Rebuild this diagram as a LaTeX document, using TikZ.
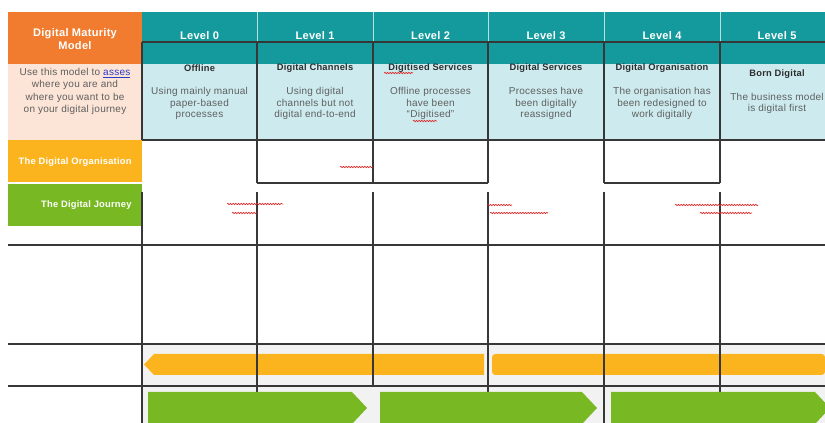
\documentclass[tikz,border=0pt]{standalone}
\usepackage{fontspec}
\setmainfont{Liberation Sans}[LetterSpace=2.5]
\usetikzlibrary{decorations.pathmorphing}

\definecolor{hdrOrange}{RGB}{241,124,47}
\definecolor{hdrPeach}{RGB}{252,228,214}
\definecolor{orgYellow}{RGB}{252,180,30}
\definecolor{jrnGreen}{RGB}{120,185,35}
\definecolor{lvlTeal}{RGB}{20,153,156}
\definecolor{lvlCyan}{RGB}{205,235,238}
\definecolor{panelGray}{RGB}{242,242,242}
\definecolor{lineGray}{RGB}{55,55,55}
\definecolor{bodyGray}{RGB}{95,95,95}
\definecolor{titleGray}{RGB}{45,45,45}
\definecolor{spellRed}{RGB}{225,40,40}
\definecolor{linkBlue}{RGB}{40,60,200}

\tikzset{every picture/.style={line width=0.75pt}}
\tikzset{
  gridline/.style={draw=lineGray, line width=1pt},
  sepline/.style={draw=white, line width=0.5pt, opacity=0.7},
  levellabel/.style={anchor=center, inner sep=0.75pt, text=white, font=\bfseries\fontsize{8.3}{10}\selectfont},
  stagetitle/.style={anchor=center, inner sep=0.75pt, text=titleGray, font=\bfseries\fontsize{7}{8.5}\selectfont},
  stagetext/.style={anchor=center, inner sep=0.75pt, align=center, text=bodyGray, font=\fontsize{7.5}{8.6}\selectfont},
  rowlabel/.style={anchor=east, inner sep=0.75pt, text=white, font=\bfseries\fontsize{7}{8.5}\selectfont},
  spell/.style={draw=spellRed, line width=0.5pt, decorate, decoration={snake, amplitude=0.55pt, segment length=2pt}},
}

\begin{document}
\begin{tikzpicture}[x=0.75pt,y=0.75pt,yscale=-1,xscale=1]
\useasboundingbox (0,0) rectangle (825,423);

%Shape: Rectangle (left header)
\fill [hdrOrange] (8,12) rectangle (142,64) ;
\fill [hdrPeach] (8,64) rectangle (142,140) ;
\fill [orgYellow] (8,140) rectangle (142,182) ;
\fill [jrnGreen] (8,184) rectangle (142,226) ;

%Shape: Rectangle (level header)
\fill [lvlTeal] (142,12) rectangle (835,64) ;
\fill [lvlCyan] (142,64) rectangle (835,140) ;
%Straight Lines (header separators)
\draw [sepline] (257,12) -- (257,42) ;
\draw [sepline] (373,12) -- (373,42) ;
\draw [sepline] (488,12) -- (488,42) ;
\draw [sepline] (604,12) -- (604,42) ;
\draw [sepline] (720,12) -- (720,42) ;

%Shape: Rectangle (grey panel)
\fill [panelGray] (142,344) rectangle (835,423) ;

%Shape: Polygon (organisation bar)
\fill [orgYellow] (144,364.5) -- (154,354) -- (484,354) -- (484,375) -- (154,375) -- cycle ;
\fill [orgYellow, rounded corners=2.5pt] (492,354) rectangle (825,375) ;

%Straight Lines (upper grid)
\draw [gridline] (142,42) -- (835,42) ;
\draw [gridline] (142,140) -- (835,140) ;
\draw [gridline] (142,42) -- (142,140) ;
\draw [gridline] (257,42) -- (257,183) ;
\draw [gridline] (373,42) -- (373,183) ;
\draw [gridline] (488,42) -- (488,183) ;
\draw [gridline] (604,42) -- (604,183) ;
\draw [gridline] (720,42) -- (720,183) ;
\draw [gridline] (257,183) -- (488,183) ;
\draw [gridline] (604,183) -- (720,183) ;

%Straight Lines (lower grid)
\draw [gridline] (142,192) -- (142,423) ;
\draw [gridline] (257,192) -- (257,423) ;
\draw [gridline] (373,192) -- (373,386) ;
\draw [gridline] (488,192) -- (488,423) ;
\draw [gridline] (604,192) -- (604,423) ;
\draw [gridline] (720,192) -- (720,423) ;
\draw [gridline] (8,245) -- (835,245) ;
\draw [gridline] (8,344) -- (835,344) ;
\draw [gridline] (8,386) -- (835,386) ;

%Shape: Polygon (journey arrows)
\fill [jrnGreen] (148,392) -- (352,392) -- (367,408) -- (352,424) -- (148,424) -- cycle ;
\fill [jrnGreen] (380,392) -- (582,392) -- (597,408) -- (582,424) -- (380,424) -- cycle ;
\fill [jrnGreen] (611,392) -- (815,392) -- (830,408) -- (815,424) -- (611,424) -- cycle ;

% Text Node
\draw (75,39.5) node (model) [anchor=center][inner sep=0.75pt][align=center, text=white, font=\bfseries\fontsize{8.3}{9.8}\selectfont] {Digital Maturity\\Model};
% Text Node
\draw (75,91.5) node (usage) [stagetext, font=\fontsize{7.5}{9.2}\selectfont] {Use this model to \textcolor{linkBlue}{\underline{asses}}\\where you are and\\where you want to be\\on your digital journey};
% Text Node
\draw (133,162) node (orgrow) [rowlabel] {The Digital Organisation};
% Text Node
\draw (133,205) node (jrnrow) [rowlabel] {The Digital Journey};

% Text Node
\draw (199.5,36) node (lvl0) [levellabel] {Level 0};
% Text Node
\draw (315,36) node (lvl1) [levellabel] {Level 1};
% Text Node
\draw (430.5,36) node (lvl2) [levellabel] {Level 2};
% Text Node
\draw (546,36) node (lvl3) [levellabel] {Level 3};
% Text Node
\draw (662,36) node (lvl4) [levellabel] {Level 4};
% Text Node
\draw (777,36) node (lvl5) [levellabel] {Level 5};

% Text Node
\draw (199.5,68) node (ttl0) [stagetitle] {Offline};
% Text Node
\draw (315,68) node (ttl1) [stagetitle] {Digital Channels};
% Text Node
\draw (430.5,68) node (ttl2) [stagetitle] {Digitised Services};
% Text Node
\draw (546,68) node (ttl3) [stagetitle] {Digital Services};
% Text Node
\draw (662,68) node (ttl4) [stagetitle] {Digital Organisation};
% Text Node
\draw (777,74) node (ttl5) [stagetitle] {Born Digital};

% Text Node
\draw (199.5,103.5) node (txt0) [stagetext] {Using mainly manual\\paper-based\\processes};
% Text Node
\draw (315,103.5) node (txt1) [stagetext] {Using digital\\channels but not\\digital end-to-end};
% Text Node
\draw (430.5,103.5) node (txt2) [stagetext] {Offline processes\\have been\\“Digitised”};
% Text Node
\draw (546,103.5) node (txt3) [stagetext] {Processes have\\been digitally\\reassigned};
% Text Node
\draw (662,103.5) node (txt4) [stagetext] {The organisation has\\been redesigned to\\work digitally};
% Text Node
\draw (777,103.5) node (txt5) [stagetext] {The business model\\is digital first};

%Curve Lines (spelling marks)
\draw [spell] (384,73) -- (413,73) ;
\draw [spell] (413,121) -- (437,121) ;
\draw [spell] (340,167) -- (373,167) ;
\draw [spell] (227,204) -- (283,204) ;
\draw [spell] (232,213) -- (257,213) ;
\draw [spell] (487,205) -- (512,205) ;
\draw [spell] (490,213) -- (548,213) ;
\draw [spell] (675,205) -- (758,205) ;
\draw [spell] (700,213) -- (752,213) ;

\end{tikzpicture}
\end{document}
